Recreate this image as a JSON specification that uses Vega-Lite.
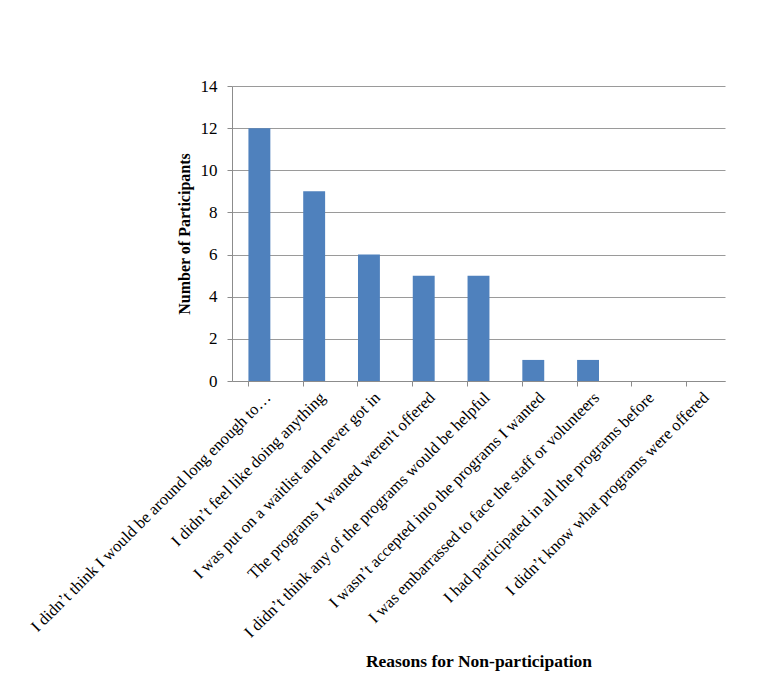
{
  "$schema": "https://vega.github.io/schema/vega-lite/v6.json",
  "width": 493,
  "height": 295,
  "autosize": "none",
  "padding": {"left": 232, "top": 86, "right": 39, "bottom": 299},
  "background": "white",
  "config": {
    "font": "Liberation Serif",
    "view": {"stroke": null}
  },
  "data": {
    "values": [
      {"reason": "I didn’t think I would be around long enough to…", "count": 12},
      {"reason": "I didn’t feel like doing anything", "count": 9},
      {"reason": "I was put on a waitlist and never got in", "count": 6},
      {"reason": "The programs I wanted weren't offered", "count": 5},
      {"reason": "I didn’t think any of the programs would be helpful", "count": 5},
      {"reason": "I wasn’t accepted into the programs I wanted", "count": 1},
      {"reason": "I was embarrassed to face the staff or volunteers", "count": 1},
      {"reason": "I had participated in all the programs before", "count": 0},
      {"reason": "I didn’t know what programs were offered", "count": 0}
    ]
  },
  "mark": {"type": "bar", "color": "#4F81BD"},
  "encoding": {
    "x": {
      "field": "reason",
      "type": "nominal",
      "sort": null,
      "scale": {"paddingInner": 0.6, "paddingOuter": 0.3},
      "axis": {
        "title": "Reasons for Non-participation",
        "titleFont": "Liberation Serif",
        "titleFontSize": 17.5,
        "titleFontWeight": "bold",
        "titleColor": "black",
        "titleBaseline": "alphabetic",
        "titleY": 285,
        "labelAngle": -45,
        "labelFontSize": 16.5,
        "labelColor": "black",
        "labelLimit": 400,
        "labelPadding": 3,
        "labelOffset": 3,
        "bandPosition": 0,
        "labelBound": false,
        "domainColor": "#8c8c8c",
        "tickColor": "#8c8c8c",
        "tickSize": 5,
        "grid": false
      }
    },
    "y": {
      "field": "count",
      "type": "quantitative",
      "scale": {"domain": [0, 14]},
      "axis": {
        "title": "Number of Participants",
        "titleFontSize": 16,
        "titleFontWeight": "bold",
        "titleColor": "black",
        "titlePadding": 8,
        "values": [0, 2, 4, 6, 8, 10, 12, 14],
        "labelFontSize": 17,
        "labelColor": "black",
        "labelPadding": 10,
        "domainColor": "#8c8c8c",
        "tickColor": "#8c8c8c",
        "tickSize": 5,
        "gridColor": "#9a9a9a",
        "gridWidth": 1
      }
    }
  }
}
